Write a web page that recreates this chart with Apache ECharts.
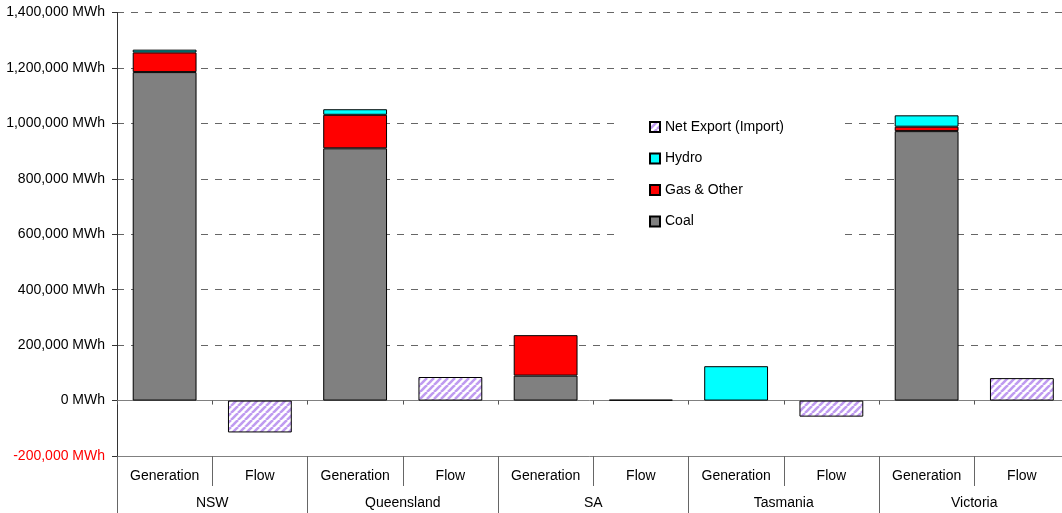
<!DOCTYPE html>
<html>
<head>
<meta charset="utf-8">
<script src="https://cdn.jsdelivr.net/npm/echarts@6/dist/echarts.min.js"></script>
<style>
  html, body { margin: 0; padding: 0; background: #fff; }
  #chart { width: 1062px; height: 513px; }
</style>
</head>
<body>
<div id="chart"></div>
<script>
const categories = ['Generation', 'Flow', 'Generation', 'Flow', 'Generation', 'Flow', 'Generation', 'Flow', 'Generation', 'Flow'];
const regions = ['NSW', 'Queensland', 'SA', 'Tasmania', 'Victoria'];
const coal      = [1185000, null, 910000, null, 90000, null, null, null, 972000, null];
const gasOther  = [71000, null, 121000, null, 146000, null, null, null, 16000, null];
const hydro     = [10000, null, 20000, null, null, null, 124000, null, 41000, null];
const netExport = [null, -115000, null, 85000, null, 3000, null, -58000, null, 81000];
const yTicks = { min: -200000, max: 1400000, interval: 200000 };

function hatch() {
  const n = 7;
  const c = document.createElement('canvas');
  c.width = n; c.height = n;
  const ctx = c.getContext('2d');
  ctx.fillStyle = '#ffffff';
  ctx.fillRect(0, 0, n, n);
  ctx.strokeStyle = '#bf9bf0';
  ctx.lineWidth = 2.6;
  for (let k = -1; k <= 1; k++) {
    ctx.beginPath();
    ctx.moveTo(k * n, n);
    ctx.lineTo(k * n + n, 0);
    ctx.stroke();
  }
  return c;
}

const chart = echarts.init(document.getElementById('chart'), null, { renderer: 'canvas' });
const font = "'Liberation Sans', Arial, sans-serif";
const border = { borderColor: '#000', borderWidth: 1 };

chart.setOption({
  animation: false,
  textStyle: { fontFamily: font },
  grid: { left: 117, top: 12.5, width: 952.5, height: 443.5, outerBoundsMode: 'none', containLabel: false },
  legend: {
    orient: 'vertical',
    left: 621, top: 107,
    padding: [12, 60, 16, 28],
    backgroundColor: '#ffffff',
    icon: 'rect',
    itemWidth: 10, itemHeight: 10, itemGap: 15.5,
    data: ['Net Export (Import)', 'Hydro', 'Gas & Other', 'Coal'],
    textStyle: { fontSize: 14, color: '#000', fontFamily: font, lineHeight: 16 },
    selectedMode: false
  },
  xAxis: [
    {
      type: 'category', data: categories, gridIndex: 0,
      axisLine: { onZero: true, lineStyle: { color: '#808080', width: 1 } },
      axisTick: { show: true, length: 4, lineStyle: { color: '#555' } },
      axisLabel: { show: false }
    },
    {
      type: 'category', data: categories, position: 'bottom',
      axisLine: { onZero: false, lineStyle: { color: '#808080', width: 1 } },
      axisTick: { show: true, length: 30, lineStyle: { color: '#666' } },
      axisLabel: { show: true, margin: 13, fontSize: 14, color: '#000', fontFamily: font },
      axisPointer: { show: false }
    },
    {
      type: 'category', data: regions, position: 'bottom',
      axisLine: { onZero: false, show: false },
      axisTick: { show: true, length: 60, lineStyle: { color: '#666' } },
      axisLabel: { show: true, margin: 40, fontSize: 14, color: '#000', fontFamily: font },
      axisPointer: { show: false }
    }
  ],
  yAxis: {
    type: 'value',
    min: yTicks.min, max: yTicks.max, interval: yTicks.interval,
    axisLine: { show: true, lineStyle: { color: '#333', width: 1 } },
    axisTick: { show: true, length: 5, lineStyle: { color: '#333' } },
    axisLabel: {
      fontSize: 14, margin: 12, fontFamily: font,
      formatter: v => v.toLocaleString('en-US') + ' MWh',
      color: v => (Number(v) < 0 ? '#ff0000' : '#000000')
    },
    splitLine: { show: true, lineStyle: { color: '#666', type: [7, 7], width: 1 } }
  },
  series: [
    { name: 'Coal', type: 'bar', stack: 's', barWidth: '67%', data: coal,
      itemStyle: Object.assign({ color: '#808080' }, border) },
    { name: 'Gas & Other', type: 'bar', stack: 's', data: gasOther,
      itemStyle: Object.assign({ color: '#ff0000' }, border) },
    { name: 'Hydro', type: 'bar', stack: 's', data: hydro,
      itemStyle: Object.assign({ color: '#00ffff' }, border) },
    { name: 'Net Export (Import)', type: 'bar', stack: 's', data: netExport,
      itemStyle: Object.assign({ color: { image: hatch(), repeat: 'repeat' } }, border) }
  ]
});
</script>
</body>
</html>
